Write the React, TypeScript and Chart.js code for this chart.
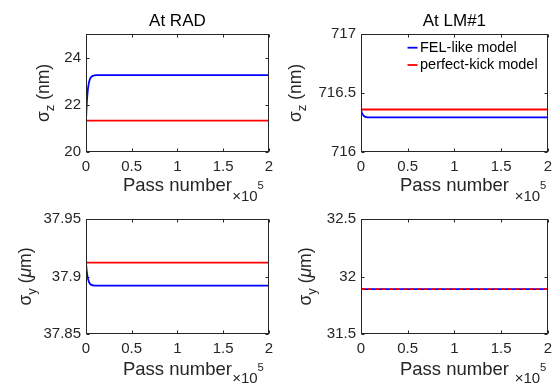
import React, { useEffect, useRef } from 'react';
import { Chart, registerables } from 'chart.js';

Chart.register(...registerables);

const FONT = '"Liberation Sans", Arial, Helvetica, sans-serif';
const TEXT = '#262626';
const BLUE = '#0000ff';
const RED = '#ff0000';

// ---------- data ----------
const passNumbers = [0, 500, 1000, 1500, 2000, 3000, 4000, 5000, 6000, 8000, 10000, 13000, 20000, 50000, 100000, 150000, 200000];

const radSigmaZFel = [21.33, 21.8, 22.15, 22.42, 22.63, 22.9, 23.05, 23.14, 23.19, 23.24, 23.25, 23.26, 23.26, 23.26, 23.26, 23.26, 23.26];
const radSigmaZKick = [21.33, 21.33, 21.33, 21.33, 21.33, 21.33, 21.33, 21.33, 21.33, 21.33, 21.33, 21.33, 21.33, 21.33, 21.33, 21.33, 21.33];

const lmSigmaZFel = [716.36, 716.344, 716.331, 716.322, 716.315, 716.306, 716.3, 716.297, 716.295, 716.294, 716.293, 716.293, 716.293, 716.293, 716.293, 716.293, 716.293];
const lmSigmaZKick = [716.36, 716.36, 716.36, 716.36, 716.36, 716.36, 716.36, 716.36, 716.36, 716.36, 716.36, 716.36, 716.36, 716.36, 716.36, 716.36, 716.36];

const radSigmaYFel = [37.912, 37.907, 37.9035, 37.9007, 37.8986, 37.8958, 37.8942, 37.8932, 37.8927, 37.8922, 37.8921, 37.892, 37.892, 37.892, 37.892, 37.892, 37.892];
const radSigmaYKick = [37.912, 37.912, 37.912, 37.912, 37.912, 37.912, 37.912, 37.912, 37.912, 37.912, 37.912, 37.912, 37.912, 37.912, 37.912, 37.912, 37.912];

const lmSigmaYFel = [31.89, 31.89, 31.89, 31.89, 31.89, 31.89, 31.89, 31.89, 31.89, 31.89, 31.89, 31.89, 31.89, 31.89, 31.89, 31.89, 31.89];
const lmSigmaYKick = [31.89, 31.89, 31.89, 31.89, 31.89, 31.89, 31.89, 31.89, 31.89, 31.89, 31.89, 31.89, 31.89, 31.89, 31.89, 31.89, 31.89];

const xTickValues = [0, 50000, 100000, 150000, 200000];
const radZTicks = [20, 22, 24];
const lmZTicks = [716, 716.5, 717];
const radYTicks = [37.85, 37.9, 37.95];
const lmYTicks = [31.5, 32, 32.5];

const seriesLabels = ['FEL-like model', 'perfect-kick model'];
const xAxisLabel = 'Pass number';

// ---------- layout (page coordinates) ----------
type PanelDef = {
  id: string;
  title: string | null;
  box: [number, number, number, number]; // canvas x, y, w, h
  area: [number, number, number, number]; // plot left, top, right, bottom
  yMin: number;
  yMax: number;
  yTicks: number[];
  fel: number[];
  kick: number[];
  sub: string;
  unit: 'nm' | 'um';
  yTitleX: number;
  expInset: number;
  xTitleBase: number;
  legend: boolean;
  kickDashed: boolean;
};

const panels: PanelDef[] = [
  { id: 'tl', title: 'At RAD', box: [0, 0, 279, 205], area: [86, 34, 273, 152], yMin: 20, yMax: 25, yTicks: radZTicks, fel: radSigmaZFel, kick: radSigmaZKick, sub: 'z', unit: 'nm', yTitleX: 49, expInset: 5, xTitleBase: 192.7, legend: false, kickDashed: false },
  { id: 'tr', title: 'At LM#1', box: [279, 0, 279, 205], area: [361, 34, 548, 152], yMin: 716, yMax: 717, yTicks: lmZTicks, fel: lmSigmaZFel, kick: lmSigmaZKick, sub: 'z', unit: 'nm', yTitleX: 301, expInset: 1.5, xTitleBase: 192.7, legend: true, kickDashed: false },
  { id: 'bl', title: null, box: [0, 205, 279, 181], area: [86, 218, 273, 334], yMin: 37.85, yMax: 37.95, yTicks: radYTicks, fel: radSigmaYFel, kick: radSigmaYKick, sub: 'y', unit: 'um', yTitleX: 31, expInset: 5, xTitleBase: 376, legend: false, kickDashed: false },
  { id: 'br', title: null, box: [279, 205, 279, 181], area: [361, 218, 548, 334], yMin: 31.5, yMax: 32.5, yTicks: lmYTicks, fel: lmSigmaYFel, kick: lmSigmaYKick, sub: 'y', unit: 'um', yTitleX: 311, expInset: 1.5, xTitleBase: 376, legend: false, kickDashed: true },
];

const TICK_FONT = 15;
const LABEL_FONT = 18.5;
const YLABEL_FONT = 17.5;
const TITLE_FONT = 17;
const LEGEND_FONT = 14.5;

function decorPlugin(p: PanelDef) {
  const [bx] = p.box;
  return {
    id: 'decor_' + p.id,
    afterDatasetsDraw(chart: any) {
      const { ctx, chartArea: a } = chart;
      const xs = chart.scales.x;
      const ys = chart.scales.y;
      ctx.save();
      ctx.strokeStyle = TEXT;
      ctx.lineWidth = 1;
      const L = Math.round(a.left) + 0.5;
      const R = Math.round(a.right) - 0.5;
      const T = Math.round(a.top) + 0.5;
      const B = Math.round(a.bottom) - 0.5;
      ctx.strokeRect(L, T, R - L, B - T);
      ctx.beginPath();
      xs.ticks.forEach((t: any) => {
        const px = Math.round(xs.getPixelForValue(t.value)) + 0.5;
        ctx.moveTo(px, B); ctx.lineTo(px, B - 3);
        ctx.moveTo(px, T); ctx.lineTo(px, T + 3);
      });
      ys.ticks.forEach((t: any) => {
        const py = Math.round(ys.getPixelForValue(t.value)) + 0.5;
        ctx.moveTo(L, py); ctx.lineTo(L + 3, py);
        ctx.moveTo(R, py); ctx.lineTo(R - 3, py);
      });
      ctx.stroke();
      ctx.restore();
    },
    afterDraw(chart: any) {
      const { ctx, chartArea: a } = chart;
      ctx.save();
      // y-axis title, rotated: sigma with subscript, unit
      const cy = (a.top + a.bottom) / 2;
      const main = `${YLABEL_FONT}px ${FONT}`;
      const subF = `${YLABEL_FONT * 0.75}px ${FONT}`;
      const ital = `italic ${YLABEL_FONT}px ${FONT}`;
      const parts: { t: string; f: string; dy: number }[] = [
        { t: 'σ', f: main, dy: 0 },
        { t: p.sub, f: subF, dy: 5 },
        { t: ' (', f: main, dy: 0 },
      ];
      if (p.unit === 'um') {
        parts.push({ t: 'μ', f: ital, dy: 0 });
        parts.push({ t: 'm)', f: main, dy: 0 });
      } else {
        parts.push({ t: 'nm)', f: main, dy: 0 });
      }
      let total = 0;
      const widths = parts.map((pt) => { ctx.font = pt.f; const w = ctx.measureText(pt.t).width; total += w; return w; });
      ctx.translate(p.yTitleX - bx, cy);
      ctx.rotate(-Math.PI / 2);
      ctx.fillStyle = TEXT;
      ctx.textBaseline = 'alphabetic';
      ctx.textAlign = 'left';
      let cx = -total / 2;
      parts.forEach((pt, i) => { ctx.font = pt.f; ctx.fillText(pt.t, cx, pt.dy); cx += widths[i]; });
      ctx.restore();

      // x exponent label  x10^5
      ctx.save();
      ctx.fillStyle = TEXT;
      ctx.textBaseline = 'alphabetic';
      ctx.textAlign = 'left';
      const right = a.right - p.expInset;
      ctx.font = `${TICK_FONT * 0.75}px ${FONT}`;
      const w5 = ctx.measureText('5').width;
      ctx.fillText('5', right - w5, a.bottom + 37);
      ctx.font = `${TICK_FONT}px ${FONT}`;
      const w10 = ctx.measureText('×10').width;
      ctx.fillText('×10', right - w5 - w10, a.bottom + 48.5);
      ctx.restore();

      // legend (no box)
      if (p.legend) {
        ctx.save();
        ctx.font = `${LEGEND_FONT}px ${FONT}`;
        ctx.textBaseline = 'middle';
        ctx.textAlign = 'left';
        chart.data.datasets.forEach((ds: any, i: number) => {
          const y = a.top + 13.7 + i * 17.3;
          const x0 = a.left + 46.5;
          ctx.strokeStyle = ds.borderColor;
          ctx.lineWidth = 1.8;
          ctx.beginPath();
          ctx.moveTo(x0, y);
          ctx.lineTo(x0 + 10, y);
          ctx.stroke();
          ctx.fillStyle = '#000';
          ctx.fillText(ds.label, x0 + 12.5, y);
        });
        ctx.restore();
      }
    },
  };
}

function PanelChart({ p }: { p: PanelDef }) {
  const ref = useRef<HTMLCanvasElement | null>(null);
  useEffect(() => {
    const canvas = ref.current;
    if (!canvas) return;
    const [bx, by, bw, bh] = p.box;
    const [al, at, ar, ab] = p.area;
    const titleLine = TITLE_FONT * 1.2;
    const titlePadTop = 0;
    const titleTop = 11;
    const padTop = p.title ? titleTop : at - by;
    const titlePadBottom = p.title ? at - by - titleTop - titleLine - titlePadTop : 0;
    const xAxisH = by + bh - ab;
    const yAxisW = al - bx;
    const padRight = bx + bw - ar;
    const labelMid = p.xTitleBase - 0.3465 * LABEL_FONT;
    const xTitlePadBottom = by + bh - labelMid - (LABEL_FONT * 1.2) / 2;

    const chart = new Chart(canvas, {
      type: 'line',
      data: {
        datasets: [
          {
            label: seriesLabels[0],
            data: passNumbers.map((x, i) => ({ x, y: p.fel[i] })),
            borderColor: BLUE,
            backgroundColor: BLUE,
            borderWidth: 1.8,
            pointRadius: 0,
            cubicInterpolationMode: 'monotone',
            order: 1,
          },
          {
            label: seriesLabels[1],
            data: passNumbers.map((x, i) => ({ x, y: p.kick[i] })),
            borderColor: RED,
            backgroundColor: RED,
            borderWidth: 1.8,
            pointRadius: 0,
            borderDash: p.kickDashed ? [4, 3] : [],
            order: 0,
          },
        ],
      },
      options: {
        responsive: false,
        animation: false,
        devicePixelRatio: 1,
        layout: { padding: { left: 0, top: padTop, right: padRight, bottom: 0 } },
        plugins: {
          legend: { display: false },
          tooltip: { enabled: false },
          title: {
            display: !!p.title,
            text: p.title || '',
            fullSize: false,
            color: '#000',
            font: { size: TITLE_FONT, family: FONT, weight: 'normal' },
            padding: { top: titlePadTop, bottom: titlePadBottom },
          },
        },
        scales: {
          x: {
            type: 'linear',
            min: 0,
            max: 200000,
            grid: { display: false, drawTicks: false },
            border: { display: false },
            ticks: {
              color: TEXT,
              font: { size: TICK_FONT, family: FONT },
              padding: 6,
              maxRotation: 0,
              autoSkip: false,
              callback: (v: any) => String(Number(v) / 100000),
            },
            afterBuildTicks: (s: any) => { s.ticks = xTickValues.map((v) => ({ value: v })); },
            afterFit: (s: any) => { s.height = xAxisH; },
            title: {
              display: true,
              text: xAxisLabel,
              color: TEXT,
              font: { size: LABEL_FONT, family: FONT },
              padding: { top: 0, bottom: xTitlePadBottom },
            },
          },
          y: {
            type: 'linear',
            min: p.yMin,
            max: p.yMax,
            grid: { display: false, drawTicks: false },
            border: { display: false },
            ticks: {
              color: TEXT,
              font: { size: TICK_FONT, family: FONT },
              padding: 5,
              callback: (v: any) => String(v),
            },
            afterBuildTicks: (s: any) => { s.ticks = p.yTicks.map((v) => ({ value: v })); },
            afterFit: (s: any) => { s.width = yAxisW; },
          },
        },
      },
      plugins: [decorPlugin(p)],
    } as any);
    return () => chart.destroy();
  }, [p]);
  const [bx, by, bw, bh] = p.box;
  return (
    <canvas
      ref={ref}
      width={bw}
      height={bh}
      style={{ position: 'absolute', left: bx, top: by, width: bw, height: bh, display: 'block' }}
    />
  );
}

export default function App() {
  return (
    <div style={{ position: 'fixed', left: 0, top: 0, width: 558, height: 386, background: '#fff', overflow: 'hidden' }}>
      {panels.map((p) => (
        <PanelChart key={p.id} p={p} />
      ))}
    </div>
  );
}
